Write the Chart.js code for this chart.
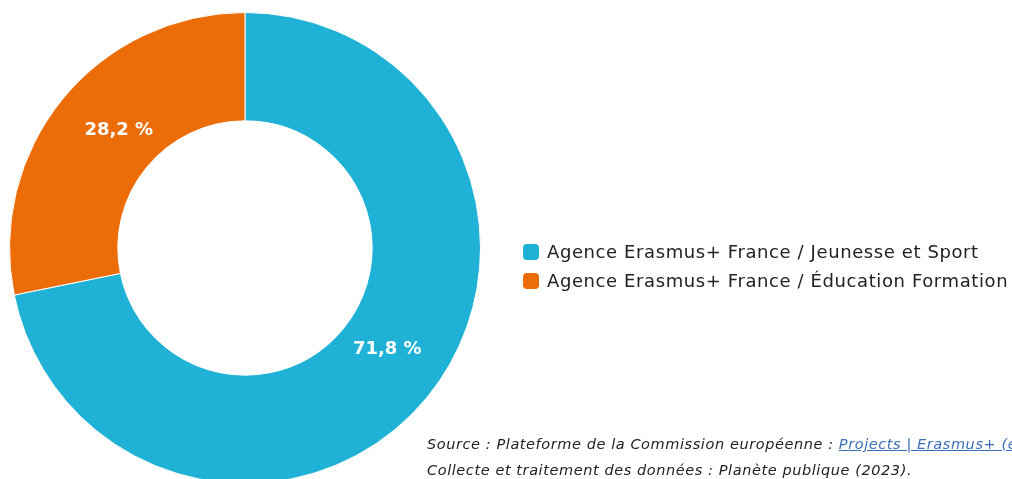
<!DOCTYPE html>
<html><head><meta charset="utf-8">
<script src="https://cdn.jsdelivr.net/npm/chart.js@4/dist/chart.umd.min.js"></script>
<style>
html,body{margin:0;padding:0;background:#fff;width:1012px;height:479px;overflow:hidden;position:relative}
#wrap{position:absolute;left:0;top:0;width:1012px;height:500px}
#legend{position:absolute;left:523px;top:237px;font-family:"DejaVu Sans",sans-serif;font-size:18px;letter-spacing:0.6px;color:#222}
.li{display:flex;align-items:center;height:29px;white-space:nowrap}
.sw{width:16px;height:16px;border-radius:4px;margin-right:8px}
#src{position:absolute;left:427px;top:431px;font-family:"DejaVu Sans",sans-serif;font-style:italic;font-size:14.5px;letter-spacing:0.58px;color:#222;line-height:26px;white-space:nowrap}
#src a{color:#3b6fb6;text-decoration:underline}
</style></head><body>
<div id="wrap"><canvas id="c" width="1012" height="500"></canvas></div>
<div id="legend"></div>
<div id="src">Source : Plateforme de la Commission européenne : <a>Projects | Erasmus+ (europa.eu)</a><br>Collecte et traitement des données : Planète publique (2023).</div>
<script>
const categories = ["Agence Erasmus+ France / Jeunesse et Sport", "Agence Erasmus+ France / Éducation Formation"];
const values = [71.8, 28.2];
const colors = ["#20B2D6", "#EC6C07"];

const leg = document.getElementById('legend');
categories.forEach((c,i)=>{
  const d=document.createElement('div');d.className='li';
  const s=document.createElement('span');s.className='sw';s.style.background=colors[i];
  d.appendChild(s);d.appendChild(document.createTextNode(c));leg.appendChild(d);
});

const labelPlugin = {
  id:'pctLabels',
  afterDatasetsDraw(chart){
    const ctx=chart.ctx;
    const meta=chart.getDatasetMeta(0);
    ctx.save();
    ctx.fillStyle='#fff';
    ctx.font='bold 18px "DejaVu Sans", sans-serif';
    ctx.textAlign='center';ctx.textBaseline='middle';
    meta.data.forEach((arc,i)=>{
      const p=arc.getProps(['x','y','startAngle','endAngle','innerRadius','outerRadius'],true);
      const a=(p.startAngle+p.endAngle)/2;
      const r=(p.innerRadius+p.outerRadius)/2 - 8;
      const txt=values[i].toFixed(1).replace('.',',')+' %';
      ctx.fillText(txt,p.x+Math.cos(a)*r+8,p.y+Math.sin(a)*r-8);
    });
    ctx.restore();
  }
};

new Chart(document.getElementById('c'),{
  type:'doughnut',
  data:{labels:categories,datasets:[{data:values,backgroundColor:colors,borderColor:'#fff',borderWidth:1}]},
  options:{
    responsive:false,animation:false,cutout:'54%',
    layout:{padding:{left:9,top:12,right:531,bottom:16}},
    plugins:{legend:{display:false},tooltip:{enabled:false}}
  },
  plugins:[labelPlugin]
});
</script>
</body></html>
